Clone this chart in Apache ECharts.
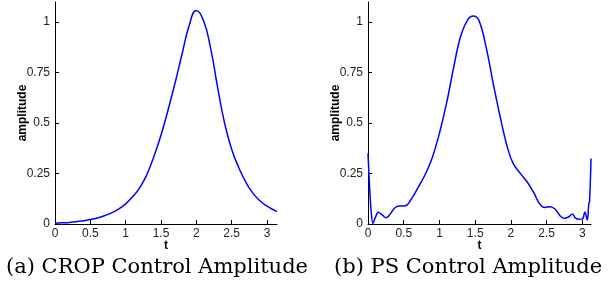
<!DOCTYPE html>
<html>
<head>
<meta charset="utf-8">
<script src="https://cdn.jsdelivr.net/npm/echarts@6/dist/echarts.min.js"></script>
<style>
  html, body { margin: 0; padding: 0; background: #fff; }
  #chart { width: 613px; height: 287px; }
</style>
</head>
<body>
<div id="chart"></div>
<script>
// (a) CROP control amplitude
var cropT = [0, 0.1, 0.2, 0.3, 0.4, 0.5, 0.6, 0.7, 0.8, 0.9, 1.0, 1.1, 1.2, 1.3, 1.4, 1.5,
  1.6, 1.7, 1.8, 1.9, 2.0, 2.1, 2.2, 2.3, 2.4, 2.5, 2.6, 2.7, 2.8, 2.9, 3.0, 3.1, 3.1416];
var cropAmp = [0.004, 0.006, 0.008, 0.011, 0.016, 0.022, 0.03, 0.041, 0.055, 0.074, 0.100,
  0.135, 0.18, 0.245, 0.335, 0.44, 0.565, 0.70, 0.845, 0.985, 1.058, 1.01, 0.875, 0.68, 0.50,
  0.37, 0.28, 0.207, 0.153, 0.115, 0.088, 0.069, 0.062];

// (b) PS control amplitude
var psT = [0, 0.02, 0.045, 0.07, 0.1, 0.145, 0.2, 0.25, 0.3, 0.37, 0.43, 0.52, 0.6, 0.7, 0.8,
  0.9, 1.0, 1.1, 1.2, 1.3, 1.4, 1.47, 1.55, 1.65, 1.75, 1.85, 1.95, 2.03, 2.13, 2.23, 2.32,
  2.4, 2.47, 2.55, 2.62, 2.69, 2.75, 2.81, 2.86, 2.9, 2.95, 3.0, 3.035, 3.067, 3.09, 3.1, 3.12];
var psAmp = [0.35, 0.2, 0.06, 0.003, 0.03, 0.058, 0.045, 0.031, 0.045, 0.078, 0.089, 0.09,
  0.12, 0.18, 0.245, 0.33, 0.45, 0.6, 0.779, 0.935, 1.015, 1.031, 1.01, 0.88, 0.70, 0.53,
  0.38, 0.3, 0.251, 0.207, 0.155, 0.1, 0.082, 0.086, 0.073, 0.04, 0.028, 0.036, 0.05, 0.03,
  0.023, 0.025, 0.06, 0.02, 0.102, 0.11, 0.325];

var yTicks = [0, 0.25, 0.5, 0.75, 1];
var captions = ['(a) CROP Control Amplitude', '(b) PS Control Amplitude'];

function pairs(xs, ys) {
  return xs.map(function (x, i) { return [x, ys[i]]; });
}

var labelStyle = { color: '#222', fontFamily: 'Liberation Sans', fontSize: 12 };
var nameStyle = { fontFamily: 'Liberation Sans', fontWeight: 'bold', fontSize: 12, color: '#000' };

function xAxisFor(idx, max) {
  return {
    type: 'value', gridIndex: idx, min: 0, max: max, interval: 0.5,
    name: 't', nameLocation: 'middle', nameGap: 16, nameMoveOverlap: false,
    nameTextStyle: nameStyle,
    axisLine: { lineStyle: { color: '#000', width: 1 } },
    axisTick: { inside: true, length: 4, lineStyle: { color: '#000' } },
    axisLabel: Object.assign({ margin: 4, showMaxLabel: false }, labelStyle),
    splitLine: { show: false }
  };
}
function yAxisFor(idx) {
  return {
    type: 'value', gridIndex: idx, min: 0, max: 1.1, interval: 0.25,
    name: 'amplitude', nameLocation: 'middle', nameGap: 26, nameMoveOverlap: false,
    nameTextStyle: nameStyle,
    axisLine: { lineStyle: { color: '#000', width: 1 } },
    axisTick: { inside: true, length: 4, lineStyle: { color: '#000' } },
    axisLabel: Object.assign({
      margin: 5, showMaxLabel: false,
      formatter: function (v) { return yTicks.indexOf(v) >= 0 ? String(v) : ''; }
    }, labelStyle),
    splitLine: { show: false }
  };
}

var captionStyle = { fontFamily: 'DejaVu Serif', fontWeight: 'normal', fontSize: 21, color: '#000' };

var chart = echarts.init(document.getElementById('chart'));
chart.setOption({
  backgroundColor: '#fff',
  animation: false,
  title: [
    { text: captions[0], left: 1, top: 252, textStyle: captionStyle },
    { text: captions[1], left: 329, top: 252, textStyle: captionStyle }
  ],
  grid: [
    { left: 55, top: 2, width: 222, height: 222 },
    { left: 368, top: 2, width: 223, height: 222 }
  ],
  xAxis: [xAxisFor(0, 3.1416), xAxisFor(1, 3.12)],
  yAxis: [yAxisFor(0), yAxisFor(1)],
  series: [
    { type: 'line', xAxisIndex: 0, yAxisIndex: 0, data: pairs(cropT, cropAmp),
      smooth: 0.5, showSymbol: false, lineStyle: { color: '#0000ff', width: 1.5 } },
    { type: 'line', xAxisIndex: 1, yAxisIndex: 1, data: pairs(psT, psAmp),
      smooth: 0.4, showSymbol: false, lineStyle: { color: '#0000ff', width: 1.5 } }
  ]
});
</script>
</body>
</html>
